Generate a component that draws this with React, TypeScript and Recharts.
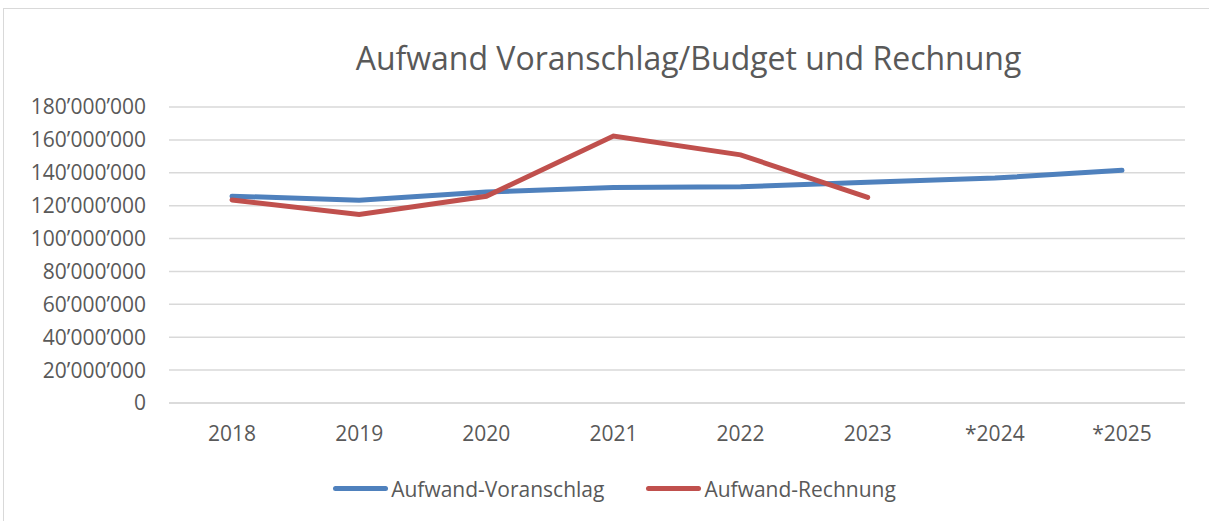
import React from 'react';
import { LineChart, Line, XAxis, YAxis, CartesianGrid, Legend } from 'recharts';

const years = ['2018', '2019', '2020', '2021', '2022', '2023', '*2024', '*2025'];
const voranschlag = [125800000, 123300000, 128300000, 131000000, 131500000, 134300000, 136800000, 141500000];
const rechnung = [123500000, 114600000, 125700000, 162300000, 150900000, 125000000, null, null];
const yTicks = [0, 20000000, 40000000, 60000000, 80000000, 100000000, 120000000, 140000000, 160000000, 180000000];

const series = [
  { key: 'voranschlag', name: 'Aufwand-Voranschlag', color: '#4f81bd' },
  { key: 'rechnung', name: 'Aufwand-Rechnung', color: '#c0504d' },
];

const data = years.map((year, i) => ({
  year,
  voranschlag: voranschlag[i],
  rechnung: rechnung[i],
}));

const fmt = (v: number) => String(v).replace(/\B(?=(\d{3})+(?!\d))/g, '\u2019');

const FONT = '"Open Sans", "Noto Sans", sans-serif';
const TEXT = '#595959';

// keep legend in series order (recharts sorts by name otherwise)
const renderLegend = () => (
  <div style={{ display: 'flex', justifyContent: 'center', height: 29, alignItems: 'center', fontFamily: FONT, fontSize: 21, color: TEXT }}>
    {series.map((s, i) => (
      <div key={s.key} style={{ display: 'flex', alignItems: 'center', marginRight: i === 0 ? 42 : 0 }}>
        <div style={{ width: 55, height: 5, borderRadius: 3, background: s.color, marginRight: 3 }} />
        <span>{s.name}</span>
      </div>
    ))}
  </div>
);

const App: React.FC = () => {
  return (
    <div style={{ position: 'absolute', left: 0, top: 0, width: 1209, height: 521, background: '#fff', overflow: 'hidden' }}>
      <div style={{ position: 'absolute', left: 3, top: 8, width: 1220, height: 530, border: '1px solid #d9d9d9' }} />
      <div style={{ position: 'absolute', left: 0, top: 36, width: 1377, textAlign: 'center', fontFamily: FONT, fontSize: 32, color: TEXT }}>
        Aufwand Voranschlag/Budget und Rechnung
      </div>
      <div style={{ position: 'absolute', left: 0, top: 0 }}>
        <LineChart width={1209} height={521} data={data} margin={{ top: 107, right: 24, left: 0, bottom: 18 }}>
          <CartesianGrid vertical={false} stroke="#d9d9d9" strokeWidth={1.5} />
          <XAxis
            dataKey="year"
            padding={{ left: 63, right: 63 }}
            axisLine={{ stroke: '#d9d9d9', strokeWidth: 1.5 }}
            tickLine={false}
            tickSize={0}
            tickMargin={23}
            height={71}
            tick={{ fill: TEXT, fontSize: 21, fontFamily: FONT }}
          />
          <YAxis
            width={169}
            domain={[0, 180000000]}
            ticks={yTicks}
            axisLine={false}
            tickLine={false}
            tickSize={0}
            tickMargin={23}
            tickFormatter={fmt}
            tick={{ fill: TEXT, fontSize: 21, fontFamily: FONT }}
          />
          <Legend verticalAlign="bottom" content={renderLegend} wrapperStyle={{ left: 20, width: 1189 }} />
          {series.map((s) => (
            <Line
              key={s.key}
              name={s.name}
              dataKey={s.key}
              stroke={s.color}
              strokeWidth={5}
              strokeLinecap="round"
              dot={false}
              activeDot={false}
              isAnimationActive={false}
            />
          ))}
        </LineChart>
      </div>
    </div>
  );
};

export default App;
